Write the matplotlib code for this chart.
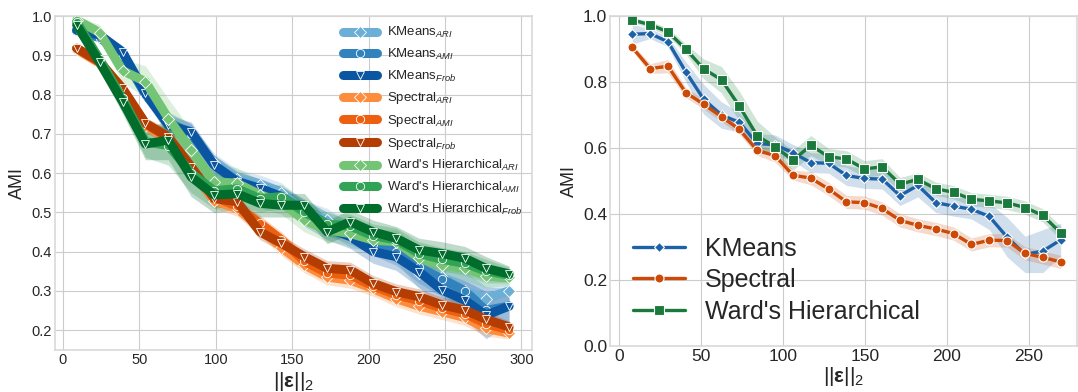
import matplotlib
matplotlib.use("Agg")
import matplotlib.pyplot as plt
import numpy as np

# left panel: three metrics per clustering method
x_left = [9, 24, 39, 54, 69, 84, 99, 114, 129, 143, 158, 173, 188, 203, 218, 233, 248, 263, 277, 292]

kmeans_ari = [0.965, 0.950, 0.905, 0.810, 0.730, 0.700, 0.625, 0.585, 0.570, 0.550, 0.500, 0.480, 0.440, 0.430, 0.410, 0.345, 0.335, 0.300, 0.280, 0.300]
kmeans_ami = [0.962, 0.945, 0.900, 0.800, 0.730, 0.700, 0.620, 0.580, 0.560, 0.540, 0.505, 0.470, 0.450, 0.420, 0.400, 0.360, 0.330, 0.300, 0.250, 0.261]
kmeans_frob = [0.964, 0.952, 0.909, 0.803, 0.722, 0.705, 0.620, 0.578, 0.561, 0.540, 0.495, 0.460, 0.438, 0.400, 0.387, 0.349, 0.302, 0.276, 0.238, 0.261]

spectral_ari = [0.915, 0.880, 0.810, 0.720, 0.685, 0.605, 0.530, 0.510, 0.460, 0.410, 0.366, 0.335, 0.327, 0.306, 0.280, 0.261, 0.247, 0.232, 0.204, 0.192]
spectral_ami = [0.918, 0.882, 0.812, 0.725, 0.690, 0.612, 0.540, 0.515, 0.472, 0.430, 0.375, 0.345, 0.340, 0.312, 0.290, 0.275, 0.256, 0.242, 0.216, 0.200]
spectral_frob = [0.918, 0.884, 0.816, 0.727, 0.692, 0.616, 0.535, 0.527, 0.450, 0.421, 0.387, 0.357, 0.353, 0.319, 0.298, 0.285, 0.264, 0.251, 0.227, 0.208]

ward_ari = [0.990, 0.958, 0.861, 0.833, 0.739, 0.659, 0.578, 0.574, 0.545, 0.525, 0.480, 0.455, 0.446, 0.429, 0.425, 0.383, 0.366, 0.357, 0.338, 0.334]
ward_ami = [0.985, 0.890, 0.790, 0.680, 0.670, 0.600, 0.555, 0.560, 0.535, 0.540, 0.500, 0.470, 0.465, 0.440, 0.430, 0.395, 0.380, 0.370, 0.350, 0.340]
ward_frob = [0.977, 0.882, 0.782, 0.674, 0.684, 0.590, 0.544, 0.547, 0.523, 0.518, 0.518, 0.450, 0.476, 0.450, 0.434, 0.404, 0.395, 0.383, 0.357, 0.343]

kmeans_err_l = [0.01, 0.01, 0.015, 0.02, 0.025, 0.025, 0.025, 0.025, 0.025, 0.025, 0.03, 0.03, 0.03, 0.03, 0.035, 0.04, 0.045, 0.05, 0.06, 0.045]
spectral_err_l = [0.01, 0.01, 0.015, 0.015, 0.02, 0.02, 0.02, 0.02, 0.02, 0.02, 0.02, 0.02, 0.02, 0.02, 0.02, 0.02, 0.02, 0.02, 0.02, 0.015]
ward_err_l = [0.01, 0.02, 0.03, 0.04, 0.05, 0.05, 0.045, 0.04, 0.035, 0.03, 0.03, 0.03, 0.03, 0.03, 0.03, 0.03, 0.03, 0.03, 0.03, 0.02]

# right panel: AMI only
x_right = [8.0, 18.9, 29.8, 40.7, 51.6, 62.5, 73.4, 84.3, 95.2, 106.1, 117.0, 127.9, 138.8,
           149.7, 160.6, 171.5, 182.4, 193.3, 204.2, 215.1, 226.0, 236.9, 247.8, 258.7, 269.6]
kmeans = [0.945, 0.947, 0.922, 0.831, 0.748, 0.700, 0.678, 0.614, 0.610, 0.586, 0.556, 0.554, 0.517,
          0.508, 0.506, 0.456, 0.487, 0.435, 0.424, 0.415, 0.393, 0.330, 0.278, 0.288, 0.322]
spectral = [0.905, 0.841, 0.848, 0.768, 0.733, 0.695, 0.657, 0.593, 0.577, 0.518, 0.509, 0.476, 0.437,
            0.435, 0.417, 0.381, 0.366, 0.355, 0.341, 0.308, 0.321, 0.320, 0.281, 0.269, 0.255]
ward = [0.988, 0.974, 0.952, 0.900, 0.840, 0.807, 0.727, 0.637, 0.604, 0.563, 0.608, 0.574, 0.567,
        0.537, 0.543, 0.491, 0.505, 0.477, 0.466, 0.445, 0.440, 0.434, 0.420, 0.396, 0.343]
kmeans_err = [0.03, 0.015, 0.015, 0.03, 0.045, 0.04, 0.03, 0.03, 0.03, 0.025, 0.03, 0.03, 0.03,
              0.03, 0.03, 0.03, 0.035, 0.03, 0.03, 0.03, 0.04, 0.06, 0.055, 0.065, 0.05]
spectral_err = [0.01, 0.015, 0.02, 0.015, 0.015, 0.015, 0.015, 0.015, 0.02, 0.015, 0.02, 0.02, 0.02,
                0.02, 0.02, 0.02, 0.02, 0.02, 0.02, 0.02, 0.02, 0.02, 0.02, 0.02, 0.02]
ward_err = [0.008, 0.01, 0.012, 0.015, 0.03, 0.04, 0.045, 0.045, 0.03, 0.03, 0.03, 0.025, 0.025,
            0.025, 0.025, 0.02, 0.02, 0.02, 0.02, 0.02, 0.02, 0.02, 0.02, 0.02, 0.02]

methods = ["KMeans", "Spectral", "Ward's Hierarchical"]
metrics = ["ARI", "AMI", "Frob"]


def main() -> None:
    plt.style.use("seaborn-v0_8-whitegrid")
    plt.rcParams["font.family"] = ["Liberation Sans", "DejaVu Sans"]
    plt.rcParams["mathtext.fontset"] = "custom"
    plt.rcParams["mathtext.rm"] = "Liberation Sans"
    plt.rcParams["mathtext.it"] = "Liberation Sans:italic"
    plt.rcParams["mathtext.bf"] = "Liberation Sans:bold"
    plt.rcParams["text.color"] = "0.15"
    plt.rcParams["axes.labelcolor"] = "0.15"
    plt.rcParams["xtick.color"] = "0.15"
    plt.rcParams["ytick.color"] = "0.15"

    fig = plt.figure(figsize=(10.78, 3.92), dpi=100)
    ax1 = fig.add_axes([0.051, 0.107, 0.4425, 0.852])
    ax2 = fig.add_axes([0.566, 0.117, 0.433, 0.842])

    # ---- left panel
    left_series = [
        (kmeans_ari, kmeans_err_l, "#6baed6"),
        (kmeans_ami, kmeans_err_l, "#3182bd"),
        (kmeans_frob, kmeans_err_l, "#0b56a2"),
        (spectral_ari, spectral_err_l, "#fd8d3c"),
        (spectral_ami, spectral_err_l, "#ec6010"),
        (spectral_frob, spectral_err_l, "#b33d03"),
        (ward_ari, ward_err_l, "#74c476"),
        (ward_ami, ward_err_l, "#31a354"),
        (ward_frob, ward_err_l, "#006d2c"),
    ]
    markers_l = ["D", "o", "v"]
    for k, (vals, err, col) in enumerate(left_series):
        vals = np.array(vals)
        err = np.array(err)
        method = methods[k // 3]
        metric = metrics[k % 3]
        ax1.fill_between(x_left, vals - err, vals + err, color=col, alpha=0.25, lw=0)
        ax1.plot(x_left, vals, color=col, lw=6.5, marker=markers_l[k % 3], ms=6,
                 mfc=col, mec="white", mew=0.6,
                 label=method + r"$_{" + metric + r"}$")
    ax1.set_xlim(-5.2, 307)
    ax1.set_ylim(0.149, 1.0)
    ax1.set_xticks([0, 50, 100, 150, 200, 250, 300])
    ax1.set_yticks([0.2, 0.3, 0.4, 0.5, 0.6, 0.7, 0.8, 0.9, 1.0])
    ax1.tick_params(labelsize=10.5, pad=2)
    ax1.set_ylabel("AMI", fontsize=13, labelpad=4)
    ax1.set_xlabel(r"$||\mathbf{ε}||_2$", fontsize=15, labelpad=2)
    ax1.legend(loc="upper right", fontsize=9.5, frameon=False, handlelength=2.6,
               labelspacing=0.5, borderaxespad=0.3)

    # ---- right panel
    right_series = [
        (kmeans, kmeans_err, "#1d62a8", "D", 5.5),
        (spectral, spectral_err, "#cc4a06", "o", 6.5),
        (ward, ward_err, "#1a7a3c", "s", 6.5),
    ]
    for (vals, err, col, mk, ms), name in zip(right_series, methods):
        vals = np.array(vals)
        err = np.array(err)
        ax2.fill_between(x_right, vals - err, vals + err, color=col, alpha=0.2, lw=0)
        ax2.plot(x_right, vals, color=col, lw=2.4, marker=mk, ms=ms,
                 mfc=col, mec="white", mew=0.8, label=name)
    ax2.set_xlim(-5.5, 279.5)
    ax2.set_ylim(0.0, 1.0)
    ax2.set_xticks([0, 50, 100, 150, 200, 250])
    ax2.set_yticks([0.0, 0.2, 0.4, 0.6, 0.8, 1.0])
    ax2.tick_params(labelsize=12.5, pad=2)
    ax2.set_ylabel("AMI", fontsize=13, labelpad=4)
    ax2.set_xlabel(r"$||\mathbf{ε}||_2$", fontsize=15, labelpad=1)
    ax2.legend(loc="lower left", fontsize=18, frameon=False, handlelength=2.1,
               labelspacing=0.3)

    for ax in (ax1, ax2):
        for sp in ax.spines.values():
            sp.set_color("0.85")
            sp.set_linewidth(1.2)

    fig.savefig("out.png", dpi=100)
    plt.close(fig)


if __name__ == "__main__":
    main()
